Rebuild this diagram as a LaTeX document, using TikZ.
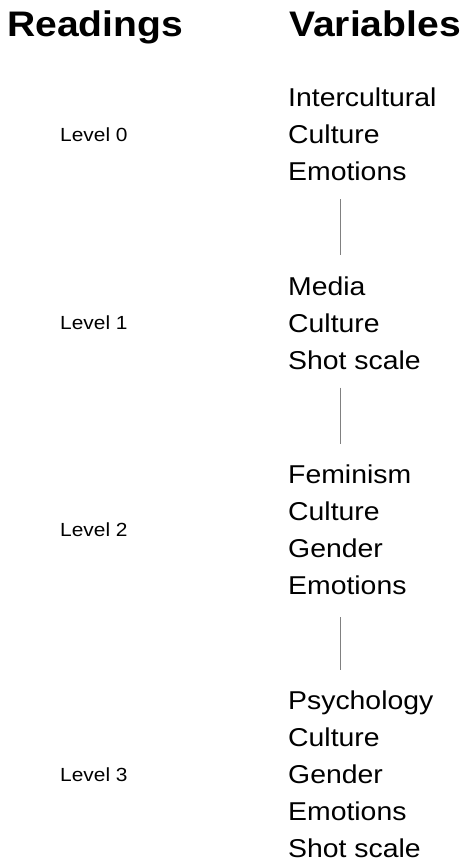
\documentclass[tikz,border=0pt]{standalone}
\usepackage{fontspec}
\setmainfont{Liberation Sans}[FakeStretch=1.1]
\usepackage{tikz}
\usetikzlibrary{positioning}

\begin{document}
\begin{tikzpicture}[x=1pt,y=1pt,
    head/.style={inner sep=0pt,anchor=base west,font=\fontsize{35.5}{40}\selectfont\bfseries},
    lvl/.style={inner sep=0pt,anchor=west,font=\fontsize{19}{23}\selectfont},
    vars/.style={inner sep=0pt,align=left,font=\fontsize{25.8}{37}\selectfont},
    link/.style={draw=black!50,line width=0.8pt}]
      \useasboundingbox (0,0) rectangle (465,-861);
      \node[head] (readings) at (7,-37) {Readings};
      \node[head] (variables) at (289,-37) {Variables};
      % variable groups
      \node[vars,anchor=north west] (v0) at (288,-88) {
        Intercultural\\Culture\\Emotions
      };
      \node[vars,below=95pt of v0.south west,anchor=north west] (v1) {
        Media\\Culture\\Shot scale
      };
      \node[vars,below=95pt of v1.south west,anchor=north west] (v2) {
        Feminism\\Culture\\Gender\\Emotions
      };
      \node[vars,below=96pt of v2.south west,anchor=north west] (v3) {
        Psychology\\Culture\\Gender\\Emotions\\Shot scale
      };
      % levels
      \coordinate (lx) at (60,0);
      \node[lvl] (l0) at (lx |- v0.west) {Level 0};
      \node[lvl] (l1) at (lx |- v1.west) {Level 1};
      \node[lvl] (l2) at (lx |- v2.west) {Level 2};
      \node[lvl] (l3) at (lx |- v3.west) {Level 3};
      % connectors
      \draw[link] ([shift={(52pt,-18pt)}]v0.south west) -- ([shift={(52pt,21pt)}]v1.north west);
      \draw[link] ([shift={(52pt,-18pt)}]v1.south west) -- ([shift={(52pt,21pt)}]v2.north west);
      \draw[link] ([shift={(52pt,-22pt)}]v2.south west) -- ([shift={(52pt,21pt)}]v3.north west);
    \end{tikzpicture}
\end{document}
